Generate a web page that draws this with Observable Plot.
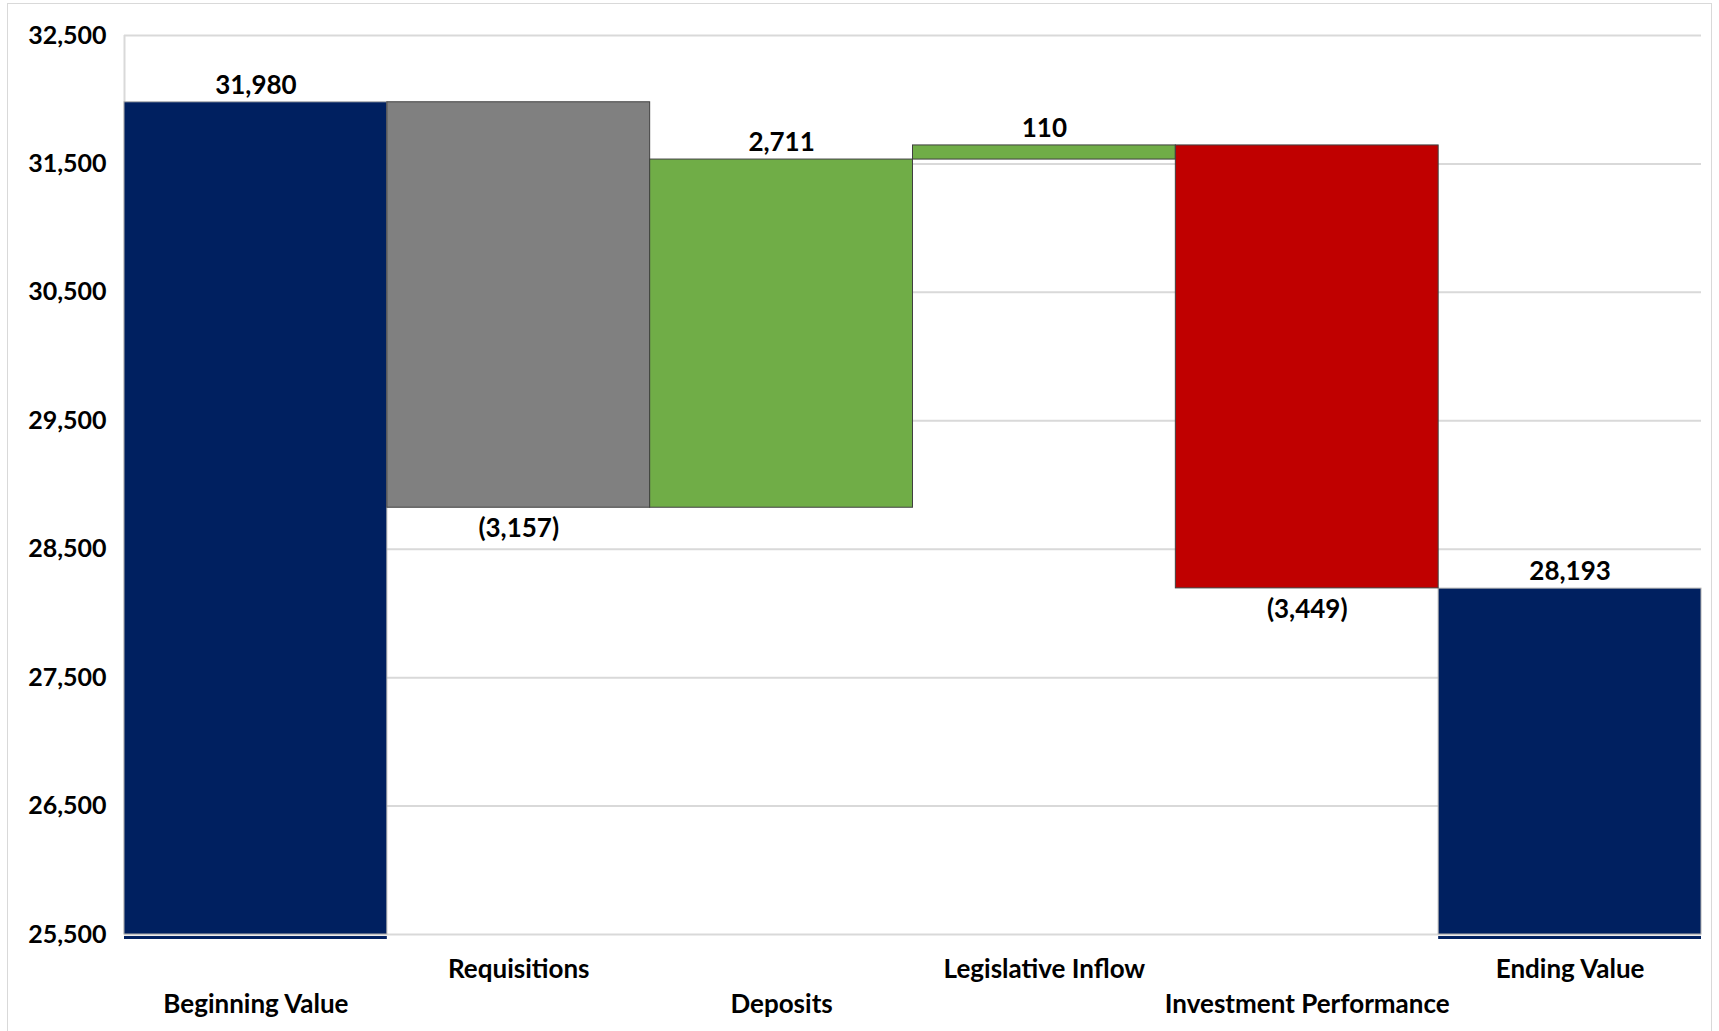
<!DOCTYPE html>
<html>
<head>
<meta charset="utf-8">
<script src="https://cdn.jsdelivr.net/npm/d3@7"></script>
<script src="https://cdn.jsdelivr.net/npm/@observablehq/plot@0.6"></script>
<style>
  html, body { margin: 0; padding: 0; background: #fff; }
  #wrap { position: relative; width: 1719px; height: 1031px; overflow: hidden; }
  #border { position: absolute; left: 7px; top: 3px; width: 1705px; height: 1040px; border: 1.5px solid #d9d9d9; box-sizing: border-box; pointer-events: none; }
</style>
</head>
<body>
<div id="wrap"><div id="border"></div></div>
<script>
// Fund value walk: opening balance, flows, closing balance
const categories = ["Beginning Value", "Requisitions", "Deposits", "Legislative Inflow", "Investment Performance", "Ending Value"];
const amounts = [31980, -3157, 2711, 110, -3449, 28193];
const kinds = ["total", "change", "change", "change", "change", "total"];
const valueLabels = ["31,980", "(3,157)", "2,711", "110", "(3,449)", "28,193"];
const barColors = ["#002060", "#808080", "#70AD47", "#70AD47", "#C00000", "#002060"];
const yTicks = [25500, 26500, 27500, 28500, 29500, 30500, 31500, 32500];
const yDomain = [25500, 32500];

// Build floating segments from the running total
let running = 0;
const rows = categories.map((name, i) => {
  let start, end;
  if (kinds[i] === "total") {
    start = yDomain[0];
    end = amounts[i];
    running = amounts[i];
  } else {
    start = running;
    end = running + amounts[i];
    running = end;
  }
  return {
    name, i, kind: kinds[i], amount: amounts[i], label: valueLabels[i], color: barColors[i],
    x1: i, x2: i + 1, xc: i + 0.5,
    y1: Math.min(start, end), y2: Math.max(start, end)
  };
});
const totals = rows.filter(d => d.kind === "total");
const floats = rows.filter(d => d.kind === "change");
const above = rows.filter(d => d.kind === "total" || d.amount >= 0);
const below = rows.filter(d => d.kind === "change" && d.amount < 0);
const upperTicks = rows.filter(d => d.i % 2 === 1).map(d => d.xc);
const lowerTicks = rows.filter(d => d.i % 2 === 0).map(d => d.xc);
const tickName = v => categories[Math.round(v - 0.5)];

const font = "Lato, 'Open Sans', sans-serif";

const chart = Plot.plot({
  width: 1719,
  height: 1031,
  marginTop: 35,
  marginBottom: 97,
  marginLeft: 124,
  marginRight: 18,
  style: { fontFamily: font, fontWeight: "bold", fontSize: "25px", color: "#000", background: "transparent" },
  x: { type: "linear", domain: [0, categories.length], axis: null },
  y: { domain: yDomain, axis: null },
  marks: [
    Plot.gridY(yTicks, { stroke: "#d9d9d9", strokeOpacity: 1, strokeWidth: 2 }),
    Plot.ruleX([0], { stroke: "#d9d9d9", strokeWidth: 2 }),
    Plot.rectY(totals, { x1: "x1", x2: "x2", y1: "y1", y2: "y2", fill: "color", stroke: "#b0b0b0", strokeWidth: 1 }),
    Plot.ruleY(totals, { x1: "x1", x2: "x2", y: () => yDomain[0], dy: 3, stroke: "color", strokeWidth: 3 }),
    Plot.rectY(floats, { x1: "x1", x2: "x2", y1: "y1", y2: "y2", fill: "color", stroke: "#404040", strokeWidth: 1 }),
    Plot.text(above, { x: "xc", y: "y2", text: "label", dy: -17, fontSize: 26, fill: "#000" }),
    Plot.text(below, { x: "xc", y: "y1", text: "label", dy: 21, fontSize: 26, fill: "#000" }),
    Plot.axisY(yTicks, { tickSize: 0, tickPadding: 18, tickFormat: d3.format(","), fontSize: 25, label: null }),
    Plot.axisX(upperTicks, { tickSize: 0, tickPadding: 25, tickFormat: tickName, fontSize: 26, label: null }),
    Plot.axisX(lowerTicks, { tickSize: 0, tickPadding: 60, tickFormat: tickName, fontSize: 26, label: null })
  ]
});

document.getElementById("wrap").prepend(chart);
</script>
</body>
</html>
